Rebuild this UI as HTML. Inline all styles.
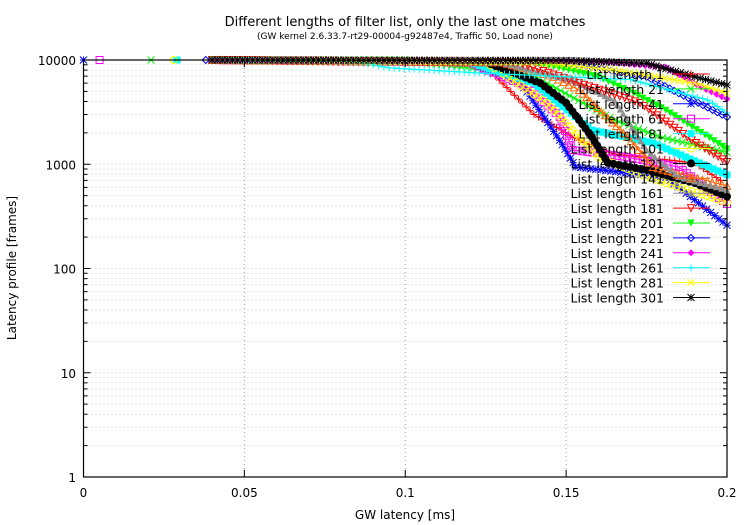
<!DOCTYPE html>
<html><head><meta charset="utf-8"><style>
html,body{margin:0;padding:0;background:#fff}
svg{display:block;font-family:"DejaVu Sans","Liberation Sans",sans-serif}
</style></head><body>
<svg id="chart" width="750" height="525" viewBox="0 0 750 525">
<text x="405" y="26" text-anchor="middle" font-size="13">Different lengths of filter list, only the last one matches</text>
<text x="405" y="39" text-anchor="middle" font-size="9">(GW kernel 2.6.33.7-rt29-00004-g92487e4, Traffic 50, Load none)</text>
<text x="405" y="519" text-anchor="middle" font-size="12">GW latency [ms]</text>
<text x="16" y="268" text-anchor="middle" font-size="12" transform="rotate(-90 16 268)">Latency profile [frames]</text>
<g id="grid"></g><g id="series"></g><g id="axes"></g><g id="legend"></g>
</svg>
<script>
const xTicks=[0,0.05,0.1,0.15,0.2];
const xTickLabels=["0","0.05","0.1","0.15","0.2"];
const yTicks=[1,10,100,1000,10000];
const yTickLabels=["1","10","100","1000","10000"];
const seriesNames=["List length 1","List length 21","List length 41","List length 61","List length 81","List length 101","List length 121","List length 141","List length 161","List length 181","List length 201","List length 221","List length 241","List length 261","List length 281","List length 301"];
const seriesColors=["#ff0000","#00ff00","#0000ff","#ff00ff","#00ffff","#ffff00","#000000","#ff6400","#909090","#ff0000","#00ff00","#0000ff","#ff00ff","#00ffff","#ffff00","#000000"];
const seriesMarkers=["plus","x","star","sq","fsq","circ","fcirc","tri","ftri","itri","fitri","dia","fdia","plus","x","star"];
const x1=[0.04,0.12,0.128,0.14,0.154,0.165,0.19,0.198];
const y1=[10000,9000,7000,3000,1700,1250,1030,700];
const x21=[0.021,0.04,0.1,0.14,0.165,0.18,0.2];
const y21=[10000,10000,10000,7000,2650,1800,1300];
const x41=[0,0.04,0.12,0.136,0.148,0.153,0.181,0.2];
const y41=[10000,10000,9500,6000,1700,940,750,260];
const x61=[0.005,0.04,0.12,0.138,0.148,0.152,0.169,0.185,0.2];
const y61=[10000,10000,9500,5500,2850,1370,1170,940,415];
const x81=[0.029,0.04,0.12,0.14,0.158,0.177,0.2];
const y81=[10000,10000,9500,6000,2130,1600,790];
const x101=[0.028,0.04,0.125,0.144,0.16,0.175,0.2];
const y101=[10000,10000,9500,3870,1170,760,430];
const x121=[0.04,0.125,0.142,0.15,0.158,0.163,0.175,0.19,0.2];
const y121=[10000,9500,6000,3870,1830,1030,880,660,490];
const x141=[0.04,0.13,0.146,0.154,0.169,0.177,0.2];
const y141=[10000,9500,6900,5150,1830,940,620];
const x161=[0.04,0.13,0.152,0.165,0.175,0.185,0.2];
const y161=[10000,9500,6400,4130,1370,760,570];
const x181=[0.04,0.135,0.154,0.173,0.189,0.2];
const y181=[10000,9500,6000,3870,1700,1050];
const x201=[0.04,0.14,0.16,0.171,0.181,0.2];
const y201=[10000,9500,6900,4800,3300,1400];
const x221=[0.038,0.15,0.175,0.185,0.2];
const y221=[10000,9500,6900,4800,2840];
const x241=[0.04,0.16,0.181,0.192,0.2];
const y241=[10000,9700,8500,5500,4230];
const x261=[0.03,0.04,0.085,0.095,0.123,0.17,0.194,0.2];
const y261=[10000,10000,9600,8400,7500,6500,4130,3100];
const x281=[0.04,0.14,0.165,0.19,0.2];
const y281=[10000,9600,8000,6000,4800];
const x301=[0.04,0.15,0.175,0.19,0.2];
const y301=[10000,9900,9300,6900,5750];
const seriesX=[x1,x21,x41,x61,x81,x101,x121,x141,x161,x181,x201,x221,x241,x261,x281,x301];
const seriesY=[y1,y21,y41,y61,y81,y101,y121,y141,y161,y181,y201,y221,y241,y261,y281,y301];

const L=83.5,R=727,T=60,B=477;
const sx=v=>L+(v-0)/(0.2-0)*(R-L);
const sy=v=>B-(Math.log10(v)-0)/4*(B-T);
const NS="http://www.w3.org/2000/svg";
function mk(tag,attrs,parent){const e=document.createElementNS(NS,tag);for(const k in attrs)e.setAttribute(k,attrs[k]);parent.appendChild(e);return e;}
const grid=document.getElementById('grid'),axes=document.getElementById('axes'),ser=document.getElementById('series'),leg=document.getElementById('legend');
for(let d=0;d<4;d++)for(let m=1;m<10;m++){const v=Math.pow(10,d)*m;if(v===1)continue;const y=sy(v);
 const g=mk('line',{x1:L,x2:R,y1:y,y2:y,stroke:'#c8c8c8','stroke-width':1,'stroke-dasharray':'1,3'},grid);
 
 
 mk('line',{x1:L,x2:L+(m===1?7:4),y1:y,y2:y,stroke:'#000'},axes);
 mk('line',{x1:R,x2:R-(m===1?7:4),y1:y,y2:y,stroke:'#000'},axes);}
xTicks.forEach((v,i)=>{const x=sx(v);
 if(i>0&&i<xTicks.length-1){const g=mk('line',{x1:x,x2:x,y1:T,y2:B,stroke:'#a0a0a0','stroke-width':1,'stroke-dasharray':'1,3'},grid);
 
 }
 mk('line',{x1:x,x2:x,y1:B,y2:B-7,stroke:'#000'},axes);mk('line',{x1:x,x2:x,y1:T,y2:T+7,stroke:'#000'},axes);
 const t=mk('text',{x:x,y:B+20,'text-anchor':'middle','font-size':12},axes);t.textContent=xTickLabels[i];
 
 });
yTicks.forEach((v,i)=>{const t=mk('text',{x:76,y:sy(v)+5,'text-anchor':'end','font-size':12},axes);t.textContent=yTickLabels[i];
 
 });
const fr=mk('rect',{x:L,y:T,width:R-L,height:B-T,fill:'none',stroke:'#000','stroke-width':1.2},axes);



function marker(type,x,y,c,p){const s=3.5;let e;
 switch(type){
 case'plus':e=mk('path',{d:`M${x-s} ${y}H${x+s}M${x} ${y-s}V${y+s}`,stroke:c,fill:'none'},p);break;
 case'x':e=mk('path',{d:`M${x-s} ${y-s}L${x+s} ${y+s}M${x-s} ${y+s}L${x+s} ${y-s}`,stroke:c,fill:'none'},p);break;
 case'star':e=mk('path',{d:`M${x-s} ${y}H${x+s}M${x} ${y-s}V${y+s}M${x-s} ${y-s}L${x+s} ${y+s}M${x-s} ${y+s}L${x+s} ${y-s}`,stroke:c,fill:'none'},p);break;
 case'sq':e=mk('rect',{x:x-s,y:y-s,width:2*s,height:2*s,stroke:c,fill:'none'},p);break;
 case'fsq':e=mk('rect',{x:x-s,y:y-s,width:2*s,height:2*s,fill:c},p);break;
 case'circ':e=mk('circle',{cx:x,cy:y,r:s,stroke:c,fill:'none'},p);break;
 case'fcirc':e=mk('circle',{cx:x,cy:y,r:s+0.5,fill:c},p);break;
 case'tri':e=mk('path',{d:`M${x} ${y-s}L${x+s} ${y+s}L${x-s} ${y+s}Z`,stroke:c,fill:'none'},p);break;
 case'ftri':e=mk('path',{d:`M${x} ${y-s}L${x+s} ${y+s}L${x-s} ${y+s}Z`,fill:c},p);break;
 case'itri':e=mk('path',{d:`M${x} ${y+s}L${x+s} ${y-s}L${x-s} ${y-s}Z`,stroke:c,fill:'none'},p);break;
 case'fitri':e=mk('path',{d:`M${x} ${y+s}L${x+s} ${y-s}L${x-s} ${y-s}Z`,fill:c},p);break;
 case'dia':e=mk('path',{d:`M${x} ${y-s}L${x+s} ${y}L${x} ${y+s}L${x-s} ${y}Z`,stroke:c,fill:'none'},p);break;
 default:e=mk('path',{d:`M${x} ${y-s}L${x+s} ${y}L${x} ${y+s}L${x-s} ${y}Z`,fill:c},p);}
 return e;}

seriesNames.forEach((name,i)=>{
 const g=mk('g',{},ser);
 
 
 const xs=seriesX[i],ys=seriesY[i],c=seriesColors[i];
 const pts=xs.map((v,k)=>[sx(v),sy(ys[k])]);
 mk('polyline',{points:pts.map(p=>p.join(',')).join(' '),fill:'none',stroke:c,'stroke-width':1},g);
 for(let k=0;k<pts.length-1;k++){const[a,b]=[pts[k],pts[k+1]];const len=Math.hypot(b[0]-a[0],b[1]-a[1]);
  const sparse=(k===0&&xs[0]<0.039);
  const n=sparse?1:Math.max(1,Math.floor(len/5));
  for(let j=0;j<n;j++){const t=j/n;marker(seriesMarkers[i],a[0]+(b[0]-a[0])*t,a[1]+(b[1]-a[1])*t,c,g);}}
 const lp=pts[pts.length-1];marker(seriesMarkers[i],lp[0],lp[1],c,g);
 const ly=74+i*14.9;
 const lg=mk('g',{},leg);
 
 
 const t=mk('text',{x:664,y:ly+5,'text-anchor':'end','font-size':12.5},lg);t.textContent=name;
 mk('line',{x1:673,x2:710,y1:ly,y2:ly,stroke:c},lg);
 marker(seriesMarkers[i],691,ly,c,lg);
});
</script>
</body></html>
